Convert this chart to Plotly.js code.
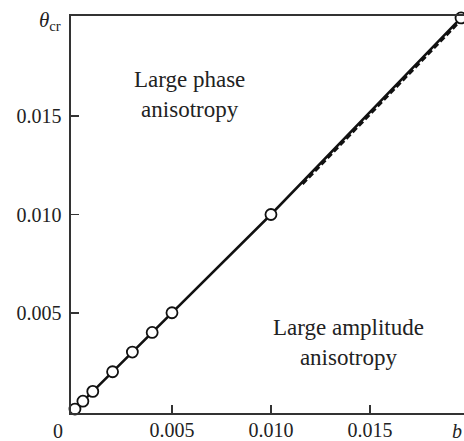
<!DOCTYPE html>
<html>
<head>
<meta charset="utf-8">
<script src="https://cdn.plot.ly/plotly-3.0.1.min.js"></script>
<style>html,body{margin:0;padding:0;background:#fff;}#chart{width:464px;height:441px;}</style>
</head>
<body>
<div id="chart"></div>
<script>
// Data
const lineB = [0, 0.01, 0.0196];
const lineTheta = [0, 0.01, 0.0200];
const dashB = [0.0116, 0.0196];
const dashTheta = [0.01155, 0.01988];
const pointB = [0.0001, 0.0005, 0.001, 0.002, 0.003, 0.004, 0.005, 0.01, 0.0196];
const pointTheta = [0.0001, 0.0005, 0.001, 0.002, 0.003, 0.004, 0.005, 0.01, 0.0200];
const xTickVals = [0.005, 0.010, 0.015];
const xTickText = ['0.005', '0.010', '0.015'];
const yTickVals = [0.005, 0.010, 0.015];
const yTickText = ['0.005', '0.010', '0.015'];

const FONT = '"Liberation Serif", "Times New Roman", serif';

const traces = [
  {x: dashB, y: dashTheta, mode: 'lines', line: {color: '#111', width: 2.5, dash: '6px,3px'}, hoverinfo: 'skip', cliponaxis: false},
  {x: lineB, y: lineTheta, mode: 'lines', line: {color: '#111', width: 2.5}, hoverinfo: 'skip', cliponaxis: false},
  {x: pointB, y: pointTheta, mode: 'markers', cliponaxis: false,
   marker: {symbol: 'circle', size: 11, color: '#fff', line: {color: '#111', width: 1.8}}}
];

const layout = {
  width: 464, height: 441,
  margin: {l: 71, r: 0, t: 16, b: 28, pad: 0},
  paper_bgcolor: '#fff', plot_bgcolor: '#fff',
  showlegend: false,
  font: {family: FONT, size: 20, color: '#222'},
  xaxis: {
    range: [-0.0001, 0.01975], showgrid: false, zeroline: false,
    showline: true, linecolor: '#333', linewidth: 1.6, mirror: true,
    ticks: 'inside', ticklen: 8, tickwidth: 1.6, tickcolor: '#333',
    tickvals: xTickVals, ticktext: xTickText,
    tickfont: {family: FONT, size: 20, color: '#222'}, ticklabelstandoff: -2
  },
  yaxis: {
    range: [-0.0001, 0.0201], showgrid: false, zeroline: false,
    showline: true, linecolor: '#333', linewidth: 1.6, mirror: false,
    ticks: 'inside', ticklen: 8, tickwidth: 1.6, tickcolor: '#333',
    tickvals: yTickVals, ticktext: yTickText,
    tickfont: {family: FONT, size: 20, color: '#222'}, ticklabelstandoff: 4
  },
  annotations: [
    {x: 0.0059, y: 0.0161, xref: 'x', yref: 'y', text: 'Large phase<br>anisotropy', showarrow: false,
     font: {family: FONT, size: 23, color: '#222'}, align: 'center'},
    {x: 0.0139, y: 0.0035, xref: 'x', yref: 'y', text: 'Large amplitude<br>anisotropy', showarrow: false,
     font: {family: FONT, size: 23, color: '#222'}, align: 'center'},
    {x: -0.02, y: 0.987, xref: 'paper', yref: 'paper', xanchor: 'right', yanchor: 'middle',
     text: '<i>θ</i><sub>cr</sub>', showarrow: false, font: {family: FONT, size: 21, color: '#222'}},
    {x: -0.033, y: -0.045, xref: 'paper', yref: 'paper', xanchor: 'center', yanchor: 'middle', text: '0', showarrow: false,
     font: {family: FONT, size: 20, color: '#222'}},
    {x: 0.982, y: -0.045, xref: 'paper', yref: 'paper', xanchor: 'center', yanchor: 'middle', text: '<i>b</i>', showarrow: false,
     font: {family: FONT, size: 20, color: '#222'}}
  ]
};

Plotly.newPlot('chart', traces, layout, {staticPlot: true, displayModeBar: false});
</script>
</body>
</html>
